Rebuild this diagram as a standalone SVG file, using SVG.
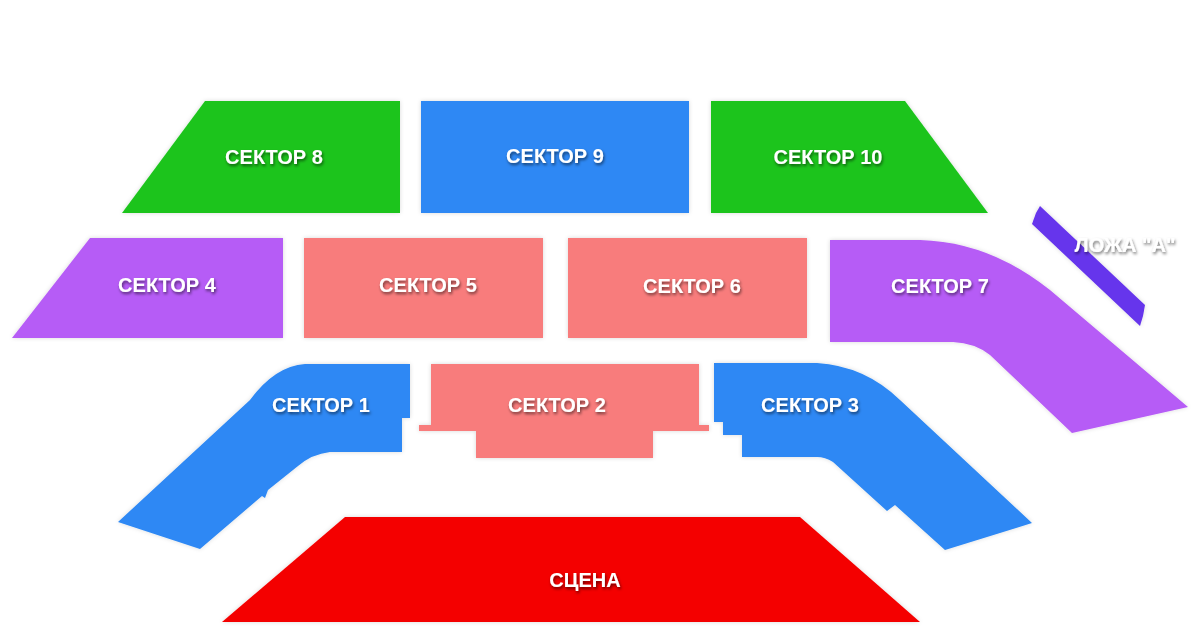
<svg xmlns="http://www.w3.org/2000/svg" width="1200" height="626" viewBox="0 0 1200 626">
<defs>
<filter id="sh" x="-10%" y="-30%" width="120%" height="160%"><feDropShadow dx="1" dy="2" stdDeviation="1.5" flood-color="#000" flood-opacity="0.55"/></filter>
<filter id="gl" x="-5%" y="-5%" width="110%" height="110%"><feDropShadow dx="0" dy="0" stdDeviation="2" flood-color="#000" flood-opacity="0.15"/></filter>
</defs>
<style>
text{font-family:"Liberation Sans",Arial,sans-serif;font-weight:bold;font-size:20px;fill:#fff;text-anchor:middle;filter:url(#sh)}
.g{fill:#1ec41e}.b{fill:#2d88f4}.p{fill:#b65cf6}.s{fill:#f87b7b}.r{fill:#f40000}.l{fill:#6634ec}
path,polygon,rect{filter:url(#gl)}
</style>
<rect width="1200" height="626" fill="#fff"/>
<g id="sector8"><polygon class="g" points="205,101 400,101 400,213 122,213"/><text x="274" y="164">СЕКТОР 8</text></g>
<g id="sector9"><rect class="b" x="421" y="101" width="268" height="112"/><text x="555" y="163">СЕКТОР 9</text></g>
<g id="sector10"><polygon class="g" points="711,101 905,101 988,213 711,213"/><text x="828" y="164">СЕКТОР 10</text></g>
<g id="sector4"><polygon class="p" points="90,238 283,238 283,338 12,338"/><text x="167" y="292">СЕКТОР 4</text></g>
<g id="sector5"><rect class="s" x="304" y="238" width="239" height="100"/><text x="428" y="292">СЕКТОР 5</text></g>
<g id="sector6"><rect class="s" x="568" y="238" width="239" height="100"/><text x="692" y="293">СЕКТОР 6</text></g>
<g id="sector7"><path class="p" d="M830,240 L920,240 Q990,242 1050,290 L1188,407 L1072,433 L990,355 Q975,343 953,342 L830,342 Z"/><text x="940" y="293">СЕКТОР 7</text></g>
<g id="loza"><polygon class="l" points="1040,206 1145,305 1143,316 1140,326 1032,224 1036,213"/><text x="1125" y="252">ЛОЖА "А"</text></g>
<g id="sector1"><path class="b" d="M305,364 L410,364 L410,418 L402,418 L402,452 L330,452 Q312,454 298,466 L268,490 L265,498 L262,496 L200,549 L118,522 L250,400 Q275,366 305,364 Z"/><text x="321" y="412">СЕКТОР 1</text></g>
<g id="sector2"><polygon class="s" points="431,364 699,364 699,425 709,425 709,431 653,431 653,458 476,458 476,431 419,431 419,425 431,425"/><text x="557" y="412">СЕКТОР 2</text></g>
<g id="sector3"><path class="b" d="M714,363 L817,363 Q865,366 900,400 L1032,523 L945,550 L895,505 L887,511 L833,462 Q825,457 817,457 L742,457 L742,435 L723,435 L723,422 L714,422 Z"/><text x="810" y="412">СЕКТОР 3</text></g>
<g id="stage"><polygon class="r" points="345,517 800,517 920,622 222,622"/><text x="585" y="587">СЦЕНА</text></g>
<g id="connectors"/>
</svg>
